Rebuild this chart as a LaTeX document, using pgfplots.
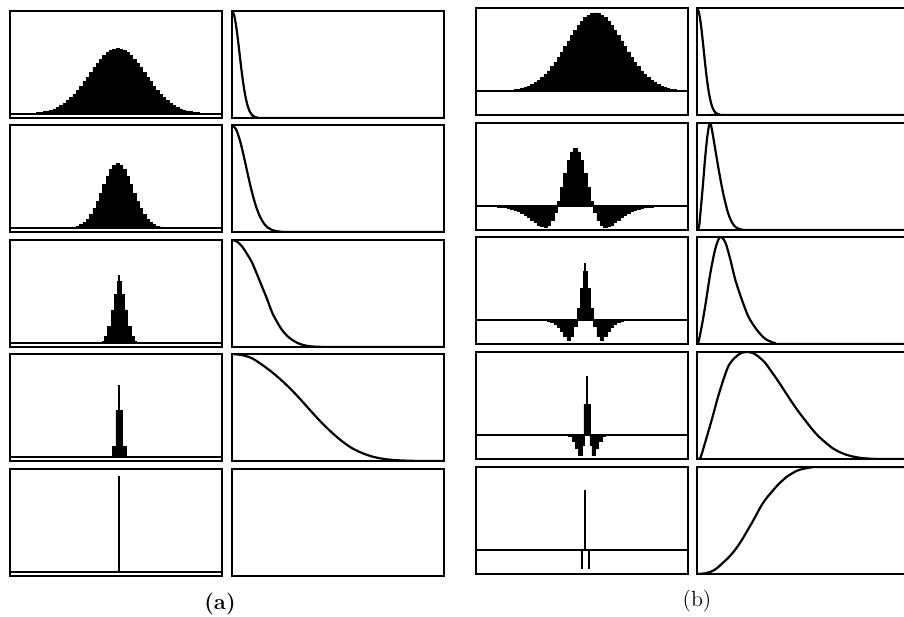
\documentclass[border=0pt]{standalone}
\usepackage{pgfplots}
\pgfplotsset{compat=1.18}
\pgfplotsset{
  panel/.style={scale only axis, width=106pt, height=53.5pt, anchor=north west,
    ticks=none, axis line style={line width=1.1pt}},
  spat/.style={panel, xmin=-32, xmax=32, ymin=-0.04, ymax=1},
  lap/.style={panel, xmin=-32, xmax=32, ymin=-0.289, ymax=1},
  freq/.style={panel, xmin=0, xmax=212, ymin=0, ymax=1},
  freqb/.style={panel, width=104.5pt, xmin=0, xmax=209, ymin=0, ymax=1},
  bars/.style={const plot mark mid, fill=black, draw=black, line width=0.3pt},
  steps/.style={const plot mark left, fill=black, draw=black, line width=0.3pt},
  spike/.style={ycomb, black, line width=1.1pt},
  curve/.style={smooth, black, line width=1.1pt},
  base/.style={black, line width=0.8pt},
  zero/.style={black, line width=1pt},
}
\begin{document}
\begin{tikzpicture}
\useasboundingbox (0,0) rectangle (452pt,308pt);

% ---------- (a) left column: weighting functions ----------
\begin{axis}[spat, at={(5pt,302.5pt)}]
\addplot[base] coordinates {(-32,0) (32,0)};
\addplot[bars] coordinates {(-27.5,0.002)(-26.5,0.004)(-25.5,0.005)(-24.5,0.008)(-23.5,0.011)(-22.5,0.015)(-21.5,0.021)(-20.5,0.028)(-19.5,0.037)(-18.5,0.049)(-17.5,0.064)(-16.5,0.082)(-15.5,0.103)(-14.5,0.129)(-13.5,0.158)(-12.5,0.192)(-11.5,0.229)(-10.5,0.269)(-9.5,0.313)(-8.5,0.358)(-7.5,0.403)(-6.5,0.449)(-5.5,0.492)(-4.5,0.532)(-3.5,0.567)(-2.5,0.596)(-1.5,0.617)(-0.5,0.630)(0.5,0.635)(1.5,0.630)(2.5,0.617)(3.5,0.596)(4.5,0.567)(5.5,0.532)(6.5,0.492)(7.5,0.449)(8.5,0.403)(9.5,0.358)(10.5,0.313)(11.5,0.269)(12.5,0.229)(13.5,0.192)(14.5,0.158)(15.5,0.129)(16.5,0.103)(17.5,0.082)(18.5,0.064)(19.5,0.049)(20.5,0.037)(21.5,0.028)(22.5,0.021)(23.5,0.015)(24.5,0.011)(25.5,0.008)(26.5,0.005)(27.5,0.004)(28.5,0.002)} \closedcycle;
\end{axis}
\begin{axis}[spat, at={(5pt,245.5pt)}]
\addplot[base] coordinates {(-32,0) (32,0)};
\addplot[bars] coordinates {(-14.5,0.002)(-13.5,0.005)(-12.5,0.010)(-11.5,0.018)(-10.5,0.031)(-9.5,0.053)(-8.5,0.085)(-7.5,0.129)(-6.5,0.186)(-5.5,0.257)(-4.5,0.337)(-3.5,0.421)(-2.5,0.500)(-1.5,0.566)(-0.5,0.610)(0.5,0.625)(1.5,0.610)(2.5,0.566)(3.5,0.500)(4.5,0.421)(5.5,0.337)(6.5,0.257)(7.5,0.186)(8.5,0.129)(9.5,0.085)(10.5,0.053)(11.5,0.031)(12.5,0.018)(13.5,0.010)(14.5,0.005)(15.5,0.002)} \closedcycle;
\end{axis}
\begin{axis}[spat, at={(5pt,188pt)}]
\addplot[base] coordinates {(-32,0) (32,0)};
\addplot[bars] coordinates {(-4,0.015)(-3,0.06)(-2,0.16)(-1,0.32)(0,0.47)(1,0.60)(2,0.47)(3,0.32)(4,0.16)(5,0.06)(6,0.015)} \closedcycle;
\addplot[spike] coordinates {(1,0.66)};
\end{axis}
\begin{axis}[spat, at={(5pt,131pt)}]
\addplot[base] coordinates {(-32,0) (32,0)};
\addplot[steps] coordinates {(-1,0.10)(0,0.45)(2,0.10)(3,0)} \closedcycle;
\addplot[spike] coordinates {(1,0.70)};
\end{axis}
\begin{axis}[spat, at={(5pt,73.5pt)}]
\addplot[base] coordinates {(-32,0) (32,0)};
\addplot[spike] coordinates {(1,0.93)};
\end{axis}

% ---------- (a) right column: frequency responses ----------
\begin{axis}[freq, at={(116pt,302.5pt)}]
\addplot[curve] coordinates {(0,1)(2,0.965)(4,0.867)(6,0.726)(8,0.566)(10,0.411)(12,0.278)(14,0.175)(16,0.103)(18,0.056)(20,0.029)(23,0.009)(26,0.002)(30,0)(212,0)};
\end{axis}
\begin{axis}[freq, at={(116pt,245.5pt)}]
\addplot[curve] coordinates {(0,1)(4,0.961)(8,0.853)(12,0.700)(16,0.530)(20,0.371)(24,0.240)(28,0.143)(32,0.079)(36,0.040)(40,0.019)(45,0.007)(50,0.002)(56,0)(212,0)};
\end{axis}
\begin{axis}[freq, at={(116pt,188pt)}]
\addplot[curve] coordinates {(0,1)(5,0.985)(10,0.94)(15,0.87)(20,0.79)(25,0.68)(30,0.565)(35,0.45)(40,0.325)(45,0.235)(50,0.16)(55,0.105)(60,0.068)(65,0.04)(70,0.022)(75,0.011)(80,0.005)(90,0.001)(100,0)(212,0)};
\end{axis}
\begin{axis}[freq, at={(116pt,131pt)}]
\addplot[curve] coordinates {(0,1)(10,0.99)(20,0.96)(30,0.90)(40,0.83)(50,0.75)(60,0.66)(70,0.56)(80,0.455)(90,0.355)(100,0.265)(110,0.185)(120,0.12)(130,0.075)(140,0.042)(150,0.022)(160,0.01)(175,0.003)(190,0)(212,0)};
\end{axis}
\begin{axis}[freq, at={(116pt,73.5pt)}]
\addplot[black, line width=1.1pt] coordinates {(0,1)(212,1)};
\end{axis}

% ---------- (b) left column: band-pass weighting functions ----------
\begin{axis}[lap, at={(238pt,304pt)}]
\addplot[zero] coordinates {(-32,0) (32,0)};
\addplot[bars] coordinates {(-24,0.004)(-23,0.006)(-22,0.009)(-21,0.012)(-20,0.017)(-19,0.024)(-18,0.033)(-17,0.044)(-16,0.059)(-15,0.077)(-14,0.100)(-13,0.127)(-12,0.160)(-11,0.198)(-10,0.242)(-9,0.292)(-8,0.347)(-7,0.407)(-6,0.470)(-5,0.537)(-4,0.604)(-3,0.670)(-2,0.733)(-1,0.791)(0,0.841)(1,0.883)(2,0.914)(3,0.934)(4,0.940)(5,0.934)(6,0.914)(7,0.883)(8,0.841)(9,0.791)(10,0.733)(11,0.670)(12,0.604)(13,0.537)(14,0.470)(15,0.407)(16,0.347)(17,0.292)(18,0.242)(19,0.198)(20,0.160)(21,0.127)(22,0.100)(23,0.077)(24,0.059)(25,0.044)(26,0.033)(27,0.024)(28,0.017)(29,0.012)(30,0.009)(31,0.006)(32,0.004)} \closedcycle;
\end{axis}
\begin{axis}[lap, at={(238pt,246.5pt)}]
\addplot[zero] coordinates {(-32,0) (32,0)};
\addplot[bars] coordinates {(-26,-0.007)(-25,-0.010)(-24,-0.014)(-23,-0.019)(-22,-0.027)(-21,-0.037)(-20,-0.050)(-19,-0.066)(-18,-0.086)(-17,-0.109)(-16,-0.137)(-15,-0.167)(-14,-0.199)(-13,-0.227)(-12,-0.248)(-11,-0.251)(-10,-0.230)(-9,-0.174)(-8,-0.077)(-7,0.059)(-6,0.222)(-5,0.394)(-4,0.546)(-3,0.652)(-2,0.690)(-1,0.652)(0,0.546)(1,0.394)(2,0.222)(3,0.059)(4,-0.077)(5,-0.174)(6,-0.230)(7,-0.251)(8,-0.248)(9,-0.227)(10,-0.199)(11,-0.167)(12,-0.137)(13,-0.109)(14,-0.086)(15,-0.066)(16,-0.050)(17,-0.037)(18,-0.027)(19,-0.019)(20,-0.014)(21,-0.010)(22,-0.007)} \closedcycle;
\end{axis}
\begin{axis}[lap, at={(238pt,189.5pt)}]
\addplot[zero] coordinates {(-32,0) (32,0)};
\addplot[bars] coordinates {(-11,-0.006)(-10,-0.015)(-9,-0.03)(-8,-0.05)(-7,-0.09)(-6,-0.14)(-5,-0.20)(-4,-0.25)(-3,-0.20)(-2,-0.08)(-1,0.14)(0,0.38)(1,0.59)(2,0.38)(3,0.14)(4,-0.08)(5,-0.20)(6,-0.25)(7,-0.20)(8,-0.14)(9,-0.09)(10,-0.05)(11,-0.03)(12,-0.015)(13,-0.006)} \closedcycle;
\addplot[spike] coordinates {(1,0.69)};
\end{axis}
\begin{axis}[lap, at={(238pt,132pt)}]
\addplot[zero] coordinates {(-32,0) (32,0)};
\addplot[steps] coordinates {(-4,-0.02)(-3,-0.07)(-2,-0.16)(-1,-0.24)(0,-0.12)(0.6,0.37)(2.4,-0.12)(3,-0.24)(4,-0.16)(5,-0.07)(6,-0.02)(7,0)} \closedcycle;
\addplot[spike] coordinates {(1.5,0.71)};
\end{axis}
\begin{axis}[lap, at={(238pt,74.5pt)}]
\addplot[zero] coordinates {(-32,0) (32,0)};
\addplot[spike] coordinates {(1,0.72)(0,-0.23)(2,-0.23)};
\end{axis}

% ---------- (b) right column: band-pass frequency responses ----------
\begin{axis}[freqb, at={(348.5pt,304pt)}]
\addplot[curve] coordinates {(0,1)(2,0.956)(4,0.837)(6,0.670)(8,0.490)(10,0.328)(12,0.201)(14,0.113)(16,0.058)(18,0.027)(20,0.012)(23,0.003)(26,0)(209,0)};
\end{axis}
\begin{axis}[freqb, at={(348.5pt,246.5pt)}]
\addplot[curve] coordinates {(0,0)(2,0.03)(4,0.22)(6,0.43)(8,0.66)(10,0.85)(11.5,0.95)(12.7,1.0)(14,0.98)(16,0.88)(18.5,0.74)(21,0.60)(23.5,0.47)(26,0.35)(28.5,0.25)(31,0.16)(33.5,0.10)(36,0.055)(39,0.025)(42,0.01)(46,0.002)(50,0)(209,0)};
\end{axis}
\begin{axis}[freqb, at={(348.5pt,189.5pt)}]
\addplot[curve] coordinates {(0,0)(1.5,0.02)(5,0.18)(8.3,0.36)(13.3,0.66)(18.3,0.89)(23,1.0)(28.3,0.95)(33.3,0.79)(38.3,0.60)(45,0.41)(51.7,0.25)(60,0.13)(68.3,0.048)(78,0.008)(88,0)(209,0)};
\end{axis}
\begin{axis}[freqb, at={(348.5pt,132pt)}]
\addplot[curve] coordinates {(0,0)(3.3,0.01)(8,0.15)(15,0.375)(21,0.58)(26.7,0.75)(32,0.88)(38.3,0.95)(44,0.99)(50,1.0)(56,0.99)(61.7,0.955)(68,0.9)(75,0.81)(81.7,0.72)(88.3,0.625)(95,0.53)(101.7,0.44)(108.3,0.36)(115,0.28)(121.7,0.21)(128.3,0.156)(135,0.105)(141.7,0.069)(148.3,0.043)(155,0.025)(161.7,0.013)(168.3,0.006)(180,0.001)(209,0)};
\end{axis}
\begin{axis}[freqb, at={(348.5pt,74.5pt)}]
\addplot[curve] coordinates {(0,0)(5,0.003)(10,0.01)(15,0.026)(20,0.055)(25,0.097)(30,0.14)(35,0.19)(40,0.25)(45,0.32)(50,0.40)(55,0.48)(60,0.565)(65,0.65)(70,0.715)(75,0.77)(80,0.825)(85,0.87)(90,0.91)(95,0.94)(100,0.965)(105,0.98)(110,0.99)(115,0.997)(125,1)(209,1)};
\end{axis}

\node[font=\fontsize{11}{13}\selectfont\bfseries] at (110pt,6pt) {(a)};
\node[font=\fontsize{11}{13}\selectfont] at (348.5pt,7.5pt) {(b)};
\end{tikzpicture}
\end{document}
